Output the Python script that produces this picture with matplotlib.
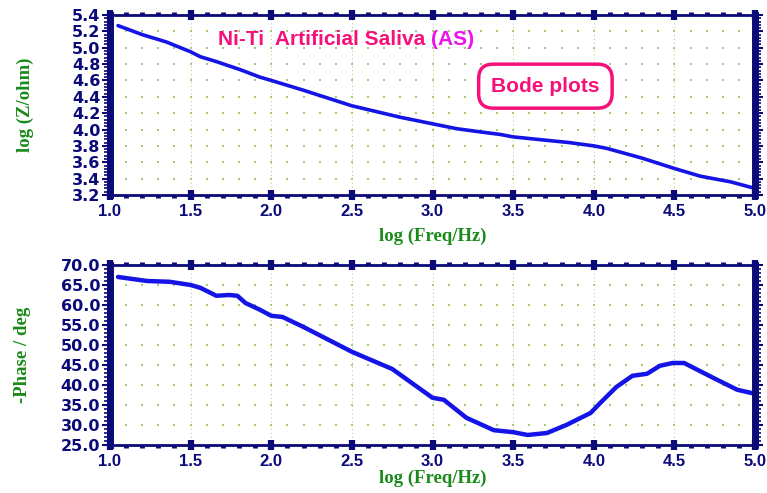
import numpy as np
import matplotlib
matplotlib.use("Agg")
import matplotlib.pyplot as plt
from matplotlib.ticker import MultipleLocator

# Bode magnitude
freq_mag = [1.05, 1.2, 1.35, 1.5, 1.56, 1.66, 1.81, 1.93, 2.0, 2.2, 2.5, 2.8, 3.0, 3.15,
            3.3, 3.42, 3.5, 3.7, 3.85, 4.0, 4.08, 4.3, 4.49, 4.66, 4.85, 5.0]
log_z = [5.27, 5.16, 5.07, 4.95, 4.89, 4.83, 4.73, 4.64, 4.60, 4.48, 4.29, 4.15, 4.07, 4.01,
         3.97, 3.94, 3.91, 3.87, 3.84, 3.80, 3.77, 3.65, 3.53, 3.43, 3.36, 3.28]

# Bode phase
freq_ph = [1.05, 1.23, 1.37, 1.5, 1.56, 1.66, 1.74, 1.79, 1.84, 1.93, 2.0, 2.07, 2.2, 2.5,
           2.75, 3.0, 3.07, 3.21, 3.38, 3.5, 3.59, 3.71, 3.83, 3.98, 4.04, 4.14, 4.24, 4.33,
           4.41, 4.49, 4.56, 4.74, 4.89, 5.0]
phase = [67.0, 66.0, 65.8, 65.0, 64.3, 62.3, 62.5, 62.3, 60.5, 58.8, 57.3, 57.0, 54.5, 48.3,
         44.0, 36.8, 36.3, 31.8, 28.7, 28.2, 27.5, 28.0, 30.0, 33.0, 35.5, 39.5, 42.3, 42.8,
         44.8, 45.5, 45.5, 41.8, 38.8, 37.8]

navy = "#0a0a78"
green = "#1a8a1a"
grid_col = "#a9c97a"
line_col = "#1414e6"
pink = "#f5107a"

fig = plt.figure(figsize=(7.67, 4.93), dpi=100)
ax1 = fig.add_axes([0.1434, 0.6045, 0.841, 0.3651])
ax2 = fig.add_axes([0.1434, 0.0974, 0.841, 0.3651])


def style_axis(ax, ylim, ymajor, yminor):
    ax.set_xlim(1.0, 5.0)
    ax.set_ylim(*ylim)
    ax.xaxis.set_major_locator(MultipleLocator(0.5))
    ax.xaxis.set_minor_locator(MultipleLocator(0.1))
    ax.yaxis.set_major_locator(MultipleLocator(ymajor))
    ax.yaxis.set_minor_locator(MultipleLocator(yminor))
    ax.xaxis.set_major_formatter(lambda v, p: f"{v:.1f}")
    ax.yaxis.set_major_formatter(lambda v, p: f"{v:.1f}")
    for side in ["top", "bottom"]:
        ax.spines[side].set_linewidth(2)
        ax.spines[side].set_color(navy)
    for side in ["left", "right"]:
        ax.spines[side].set_linewidth(5)
        ax.spines[side].set_color(navy)
    ax.tick_params(axis="x", which="major", direction="inout", length=7, width=4.5,
                   color=navy, top=True, labelsize=12, labelcolor=navy, pad=3)
    ax.tick_params(axis="x", which="minor", direction="out", length=2.2, width=3.5,
                   color=navy, top=True)
    ax.tick_params(axis="y", which="major", direction="out", length=6, width=1.5,
                   color=navy, right=True, labelsize=11.5, labelcolor=navy, pad=1)
    ax.tick_params(axis="y", which="minor", direction="out", length=4, width=1.2,
                   color=navy, right=True)
    for lab in ax.get_xticklabels():
        lab.set_fontweight("bold")
        lab.set_fontfamily("Liberation Sans")
    for lab in ax.get_yticklabels():
        lab.set_fontweight("bold")
        lab.set_fontfamily("DejaVu Sans")
    # vertical dotted grid at major x ticks
    for xv in np.arange(1.5, 5.0, 0.5):
        ax.axvline(xv, color=grid_col, lw=0.7, ls=(0, (1, 3)), zorder=0)
    # dotted rows at major y ticks
    xs = np.arange(1.1, 5.0, 0.1)
    ys = np.arange(ylim[0] + ymajor, ylim[1] - ymajor / 2, ymajor)
    gx, gy = np.meshgrid(xs, ys)
    ax.scatter(gx.ravel(), gy.ravel(), s=0.9, color=grid_col, marker="s", lw=0, zorder=0)


style_axis(ax1, (3.2, 5.4), 0.2, 0.04)
style_axis(ax2, (25.0, 70.0), 5.0, 1.0)

ax1.plot(freq_mag, log_z, color=line_col, lw=2.6, solid_capstyle="round")
ax2.plot(freq_ph, phase, color=line_col, lw=3.2, solid_capstyle="round")

label_font = dict(family="Liberation Serif", fontweight="bold", color=green, fontsize=13.5)
ax1.set_ylabel("log (Z/ohm)", **label_font)
ax2.set_ylabel("-Phase / deg", **label_font)
ax1.set_xlabel("log (Freq/Hz)", **label_font)
ax2.set_xlabel("log (Freq/Hz)", **label_font)
ax1.yaxis.set_label_coords(-0.118, 0.5)
ax2.yaxis.set_label_coords(-0.122, 0.5)
ax1.xaxis.set_label_coords(0.5, -0.183)
ax2.xaxis.set_label_coords(0.5, -0.139)

t1 = ax1.text(1.67, 5.095, "Ni-Ti  Artificial Saliva ", color=pink, fontsize=15,
              fontweight="bold", family="Liberation Sans", va="center")
ax1.annotate("(AS)", xy=(1, 0.5), xycoords=t1, va="center", ha="left",
             color="#ee10ee", fontsize=15, fontweight="bold", family="Liberation Sans")
ax1.text(3.70, 4.53, "Bode plots", color=pink, fontsize=15, fontweight="bold",
         family="Liberation Sans", ha="center", va="center",
         bbox=dict(boxstyle="round,pad=0.6,rounding_size=0.7", fc="white",
                   ec=pink, lw=2.5))

fig.savefig("out.png", dpi=100)
